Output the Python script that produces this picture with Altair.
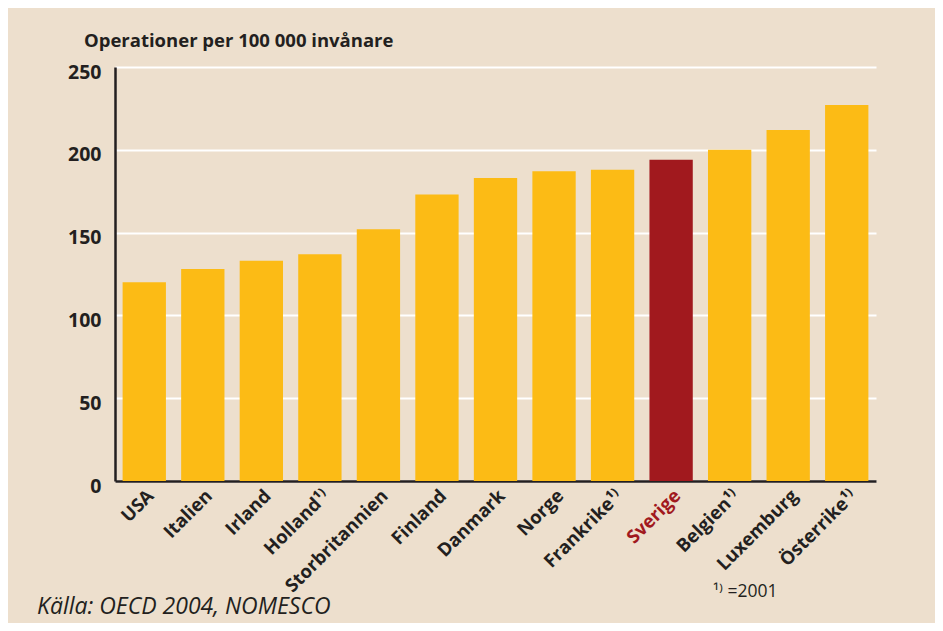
import altair as alt
import pandas as pd

# ---- data ----
countries = ["USA", "Italien", "Irland", "Holland", "Storbritannien", "Finland",
             "Danmark", "Norge", "Frankrike", "Sverige", "Belgien", "Luxemburg", "Österrike"]
values = [120, 128, 133, 137, 152, 173, 183, 187, 188, 194, 200, 212, 227]
footnote_2001 = [False, False, False, True, False, False, False, False, True, False, True, False, True]
highlight = "Sverige"
y_ticks = [0, 50, 100, 150, 200, 250]

y_title = "Operationer per 100 000 invånare"
source_text = "Källa: OECD 2004, NOMESCO"
footnote_text = "¹⁾ =2001"

labels = [c + ("¹⁾" if f else "") for c, f in zip(countries, footnote_2001)]
df = pd.DataFrame({"label": labels, "country": countries, "value": values})

BG = "#EDDFCD"
YELLOW = "#FCBB15"
RED = "#A1191E"
INK = "#231F20"
FONT = "Open Sans"

W, H = 761, 414

bars = alt.Chart(df).mark_bar().encode(
    x=alt.X(
        "label:N", sort=None, title=None,
        scale=alt.Scale(paddingInner=0.26, paddingOuter=0.13),
        axis=alt.Axis(
            labelAngle=-45, labelFont=FONT, labelFontSize=18.5, labelFontWeight="bold",
            labelColor=alt.condition(f"datum.value == '{highlight}'", alt.value(RED), alt.value(INK)),
            ticks=False, domainColor=INK, domainWidth=2.5, labelPadding=5, grid=False,
        ),
    ),
    y=alt.Y(
        "value:Q", title=None,
        scale=alt.Scale(domain=[0, 250], nice=False),
        axis=alt.Axis(
            values=y_ticks, labelFont=FONT, labelFontSize=19.5, labelFontWeight="bold",
            labelColor=INK, ticks=False, domainColor=INK, domainWidth=2.5,
            labelPadding=14, labelBaseline="top", labelOffset=-4,
            grid=True, gridColor="white", gridWidth=2,
        ),
    ),
    color=alt.condition(alt.datum.country == highlight, alt.value(RED), alt.value(YELLOW)),
)

title = alt.Chart(pd.DataFrame({"t": [y_title]})).mark_text(
    font=FONT, fontSize=18.5, fontWeight="bold", color=INK, align="left", baseline="alphabetic"
).encode(x=alt.value(-31), y=alt.value(-20), text="t:N")

source = alt.Chart(pd.DataFrame({"t": [source_text]})).mark_text(
    font=FONT, fontSize=23, fontStyle="italic", color=INK, align="left", baseline="alphabetic"
).encode(x=alt.value(-78), y=alt.value(547), text="t:N")

foot = alt.Chart(pd.DataFrame({"t": [footnote_text]})).mark_text(
    font=FONT, fontSize=17.5, color=INK, align="left", baseline="alphabetic"
).encode(x=alt.value(598), y=alt.value(530), text="t:N")

chart = alt.layer(bars, title, source, foot).properties(
    width=W, height=H,
    autosize=alt.AutoSizeParams(type="none"),
    padding={"left": 107, "top": 59, "right": 59, "bottom": 142},
    background=BG,
).configure_view(stroke=None)

chart.save("out.html", embed_options={"renderer": "svg", "actions": False})
